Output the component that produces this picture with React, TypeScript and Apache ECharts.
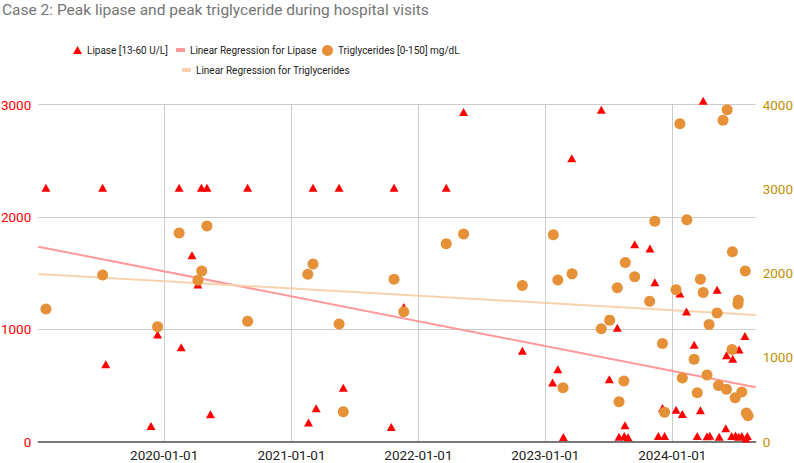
import React, { useEffect, useRef } from 'react';
import * as echarts from 'echarts';

const titleText = 'Case 2: Peak lipase and peak triglyceride during hospital visits';

const lipaseName = 'Lipase [13-60 U/L]';
const lipaseTrendName = 'Linear Regression for Lipase';
const trigName = 'Triglycerides [0-150] mg/dL';
const trigTrendName = 'Linear Regression for Triglycerides';

const xRange = ['2019-01-04', '2024-08-28'];
const yearLabels = ['2020-01-01', '2021-01-01', '2022-01-01', '2023-01-01', '2024-01-01'];

const lipaseDates = [
  '2019-01-26', '2019-07-08', '2019-07-17', '2019-11-24', '2019-12-13', '2020-02-13', '2020-02-19', '2020-03-21',
  '2020-04-07', '2020-04-17', '2020-05-03', '2020-05-13', '2020-08-28', '2021-02-19', '2021-03-04', '2021-03-13',
  '2021-05-18', '2021-05-30', '2021-10-15', '2021-10-23', '2021-11-20', '2022-03-22', '2022-05-11', '2022-10-27',
  '2023-01-22', '2023-02-06', '2023-02-22', '2023-03-18', '2023-06-11', '2023-07-04', '2023-07-27', '2023-08-01',
  '2023-08-16', '2023-08-18', '2023-08-27', '2023-09-15', '2023-10-29', '2023-11-12', '2023-11-22', '2023-12-04',
  '2023-12-10', '2024-01-12', '2024-01-23', '2024-01-30', '2024-02-11', '2024-03-04', '2024-03-13', '2024-03-22',
  '2024-03-30', '2024-04-10', '2024-04-18', '2024-05-09', '2024-05-15', '2024-06-03', '2024-06-05', '2024-06-20',
  '2024-06-23', '2024-07-01', '2024-07-10', '2024-07-11', '2024-07-19', '2024-07-28', '2024-07-31', '2024-08-04',
];
const lipaseValues = [
  2260, 2260, 690, 140, 955, 2260, 840, 1660,
  1400, 2260, 2260, 245, 2260, 170, 2260, 297,
  2260, 481, 131, 2260, 1200, 2260, 2935, 810,
  527, 646, 42, 2524, 2955, 556, 1014, 45,
  50, 146, 40, 1758, 1719, 1419, 50, 300,
  50, 285, 1320, 247, 1158, 864, 50, 280,
  3035, 48, 52, 1352, 45, 119, 770, 50,
  739, 55, 45, 820, 50, 940, 28, 50,
];

const trigDates = [
  '2019-01-26', '2019-07-08', '2019-12-13', '2020-02-13', '2020-04-07', '2020-04-18', '2020-05-03', '2020-08-28',
  '2021-02-17', '2021-03-04', '2021-05-18', '2021-05-30', '2021-10-23', '2021-11-20', '2022-03-22', '2022-05-11',
  '2022-10-27', '2023-01-24', '2023-02-06', '2023-02-21', '2023-03-19', '2023-06-11', '2023-07-05', '2023-07-27',
  '2023-08-01', '2023-08-15', '2023-08-19', '2023-09-15', '2023-10-28', '2023-11-12', '2023-12-04', '2023-12-10',
  '2024-01-12', '2024-01-23', '2024-01-30', '2024-02-12', '2024-03-04', '2024-03-13', '2024-03-22', '2024-03-30',
  '2024-04-10', '2024-04-16', '2024-05-09', '2024-05-13', '2024-05-26', '2024-06-05', '2024-06-07', '2024-06-21',
  '2024-06-22', '2024-06-30', '2024-07-08', '2024-07-09', '2024-07-19', '2024-07-29', '2024-08-01', '2024-08-06',
];
const trigValues = [
  1575, 1979, 1365, 2478, 1915, 2025, 2560, 1429,
  1987, 2109, 1397, 356, 1928, 1543, 2350, 2465,
  1855, 2457, 1918, 641, 1992, 1340, 1443, 1828,
  475, 720, 2128, 1957, 1666, 2616, 1165, 349,
  1803, 3775, 756, 2635, 978, 580, 1928, 1770,
  792, 1391, 1528, 667, 3815, 622, 3941, 1095,
  2255, 522, 1635, 1680, 590, 2025, 341, 309,
];

const lipaseTrendValues = [1736, 484];
const trigTrendValues = [1990, 1504];

const toTs = (s: string) => {
  const [y, m, d] = s.split('-').map(Number);
  return Date.UTC(y, m - 1, d);
};
const pad = (n: number) => (n < 10 ? '0' + n : '' + n);
const fmt = (v: number) => {
  const d = new Date(v);
  return d.getUTCFullYear() + '-' + pad(d.getUTCMonth() + 1) + '-' + pad(d.getUTCDate());
};

const FONT = 'Roboto, "Liberation Sans", Arial, sans-serif';

export default function App() {
  const ref = useRef<HTMLDivElement>(null);

  useEffect(() => {
    if (!ref.current) return;
    const chart = echarts.init(ref.current, undefined, { renderer: 'svg' });
    const xMin = toTs(xRange[0]);
    const xMax = toTs(xRange[1]);

    const legendCommon = {
      orient: 'horizontal',
      padding: 0,
      itemStyle: { borderWidth: 0 },
      textStyle: { color: '#222222', fontSize: 10, fontFamily: FONT },
      selectedMode: false,
    };

    chart.setOption({
      animation: false,
      useUTC: true,
      backgroundColor: '#ffffff',
      title: {
        text: titleText,
        left: 2,
        top: 2,
        padding: 0,
        textStyle: { color: '#757575', fontSize: 15.5, fontWeight: 'normal', fontFamily: FONT },
      },
      legend: [
        { ...legendCommon, data: [{ name: lipaseName, icon: 'triangle' }], left: 73, top: 45, itemWidth: 9, itemHeight: 8 },
        { ...legendCommon, data: [{ name: lipaseTrendName, icon: 'rect' }], left: 176, top: 45, itemWidth: 9, itemHeight: 4 },
        { ...legendCommon, data: [{ name: trigName, icon: 'circle' }], left: 322, top: 45, itemWidth: 11, itemHeight: 11 },
        { ...legendCommon, data: [{ name: trigTrendName, icon: 'rect' }], left: 182, top: 65, itemWidth: 9, itemHeight: 4 },
      ],
      grid: {
        left: 38.3,
        right: 38.3,
        top: 104.7,
        bottom: 21.3,
        outerBoundsMode: 'none',
        containLabel: false,
      },
      xAxis: {
        type: 'time',
        min: xMin,
        max: xMax,
        splitNumber: 5,
        axisLine: { show: true, lineStyle: { color: '#555555', width: 1.5 } },
        axisTick: { show: false },
        axisLabel: {
          color: '#222222',
          fontSize: 13.5,
          fontFamily: FONT,
          margin: 6,
          hideOverlap: false,
          formatter: (v: number) => {
            const s = fmt(v);
            return yearLabels.indexOf(s) >= 0 ? s : '';
          },
        },
        splitLine: {
          show: true,
          showMinLine: false,
          showMaxLine: false,
          lineStyle: { color: '#cccccc', width: 1 },
        },
      },
      yAxis: [
        {
          type: 'value',
          min: 0,
          max: 3000,
          interval: 1000,
          position: 'left',
          axisLine: { show: false },
          axisTick: { show: false },
          axisLabel: { color: '#ff0000', fontSize: 13.5, fontFamily: FONT, margin: 7, formatter: (v: number) => String(v) },
          splitLine: { show: true, lineStyle: { color: '#cccccc', width: 1 } },
        },
        {
          type: 'value',
          min: 0,
          max: 4000,
          interval: 1000,
          position: 'right',
          axisLine: { show: false },
          axisTick: { show: false },
          axisLabel: { color: '#bf9000', fontSize: 13.5, fontFamily: FONT, margin: 7, formatter: (v: number) => String(v) },
          splitLine: { show: false },
        },
      ],
      series: [
        {
          name: lipaseTrendName,
          type: 'line',
          yAxisIndex: 0,
          data: xRange.map((d, i) => [toTs(d), lipaseTrendValues[i]]),
          showSymbol: false,
          symbol: 'none',
          color: '#ff9999',
          lineStyle: { color: '#ff9999', width: 2 },
          z: 2,
          silent: true,
        },
        {
          name: trigTrendName,
          type: 'line',
          yAxisIndex: 1,
          data: xRange.map((d, i) => [toTs(d), trigTrendValues[i]]),
          showSymbol: false,
          symbol: 'none',
          color: '#f6d3ae',
          lineStyle: { color: '#f6d3ae', width: 2 },
          z: 2,
          silent: true,
        },
        {
          name: lipaseName,
          type: 'scatter',
          yAxisIndex: 0,
          symbol: 'triangle',
          symbolSize: [9, 8],
          clip: false,
          color: '#ff0000',
          itemStyle: { color: '#ff0000', opacity: 1 },
          data: lipaseDates.map((d, i) => [toTs(d), lipaseValues[i]]),
          z: 3,
        },
        {
          name: trigName,
          type: 'scatter',
          yAxisIndex: 1,
          symbol: 'circle',
          symbolSize: 11,
          color: '#e69138',
          itemStyle: { color: '#e69138', opacity: 1 },
          data: trigDates.map((d, i) => [toTs(d), trigValues[i]]),
          z: 4,
        },
      ],
    });

    return () => chart.dispose();
  }, []);

  return (
    <div
      ref={ref}
      style={{ position: 'fixed', left: 0, top: 0, width: 794, height: 463, background: '#ffffff' }}
    />
  );
}
